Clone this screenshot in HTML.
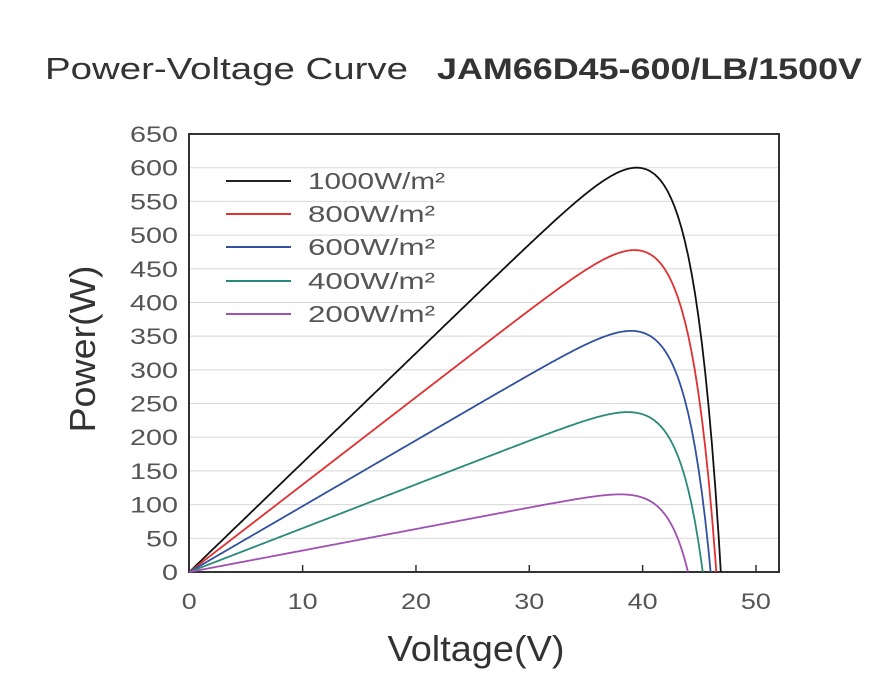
<!DOCTYPE html>
<html><head><style>body{margin:0;background:#fff}svg{display:block}text{font-family:"Liberation Sans",sans-serif}</style></head>
<body>
<svg id="s" width="891" height="691" xmlns="http://www.w3.org/2000/svg">
<text x="45" y="79" font-size="31" fill="#333" textLength="363" lengthAdjust="spacingAndGlyphs">Power-Voltage Curve</text>
<text x="437" y="79" font-size="30" font-weight="bold" fill="#333" textLength="425" lengthAdjust="spacingAndGlyphs">JAM66D45-600/LB/1500V</text>
<g id="grid" stroke="#d8d8d8" stroke-width="1"></g>
<g id="yl" font-size="22" fill="#555"></g>
<g id="xl" font-size="22" fill="#555"></g>
<rect x="189" y="134" width="590" height="438" fill="none" stroke="#333" stroke-width="2"/>
<g id="ticks" stroke="#333" stroke-width="1.5"></g>
<g id="curves" fill="none" stroke-width="1.8"></g>
<g font-size="23" fill="#555">
<line x1="226" y1="181" x2="291" y2="181" stroke="#222" stroke-width="2"/><text x="308" y="189" textLength="137" lengthAdjust="spacingAndGlyphs">1000W/m²</text>
<line x1="226" y1="214" x2="291" y2="214" stroke="#e03030" stroke-width="2"/><text x="308" y="222" textLength="127" lengthAdjust="spacingAndGlyphs">800W/m²</text>
<line x1="226" y1="247" x2="291" y2="247" stroke="#3050a0" stroke-width="2"/><text x="308" y="255" textLength="127" lengthAdjust="spacingAndGlyphs">600W/m²</text>
<line x1="226" y1="281" x2="291" y2="281" stroke="#2a8a7a" stroke-width="2"/><text x="308" y="289" textLength="127" lengthAdjust="spacingAndGlyphs">400W/m²</text>
<line x1="226" y1="314" x2="291" y2="314" stroke="#a050b0" stroke-width="2"/><text x="308" y="322" textLength="127" lengthAdjust="spacingAndGlyphs">200W/m²</text>
</g>
<text transform="translate(95,349) rotate(-90)" font-size="36" fill="#333" text-anchor="middle" textLength="167" lengthAdjust="spacingAndGlyphs">Power(W)</text>
<text x="476" y="661" font-size="36" fill="#333" text-anchor="middle" textLength="177" lengthAdjust="spacingAndGlyphs">Voltage(V)</text>
</svg>
<script>
var NS="http://www.w3.org/2000/svg";
function X(v){return 189.3+v*11.333}function Y(p){return 572-p*0.6738}
function el(g,t,a){var e=document.createElementNS(NS,t);for(var k in a)e.setAttribute(k,a[k]);document.getElementById(g).appendChild(e);return e}
for(var p=50;p<=600;p+=50){el("grid","line",{x1:189,x2:779,y1:Y(p),y2:Y(p)})}
for(var p=0;p<=650;p+=50){var s=String(p),w=s.length*16;el("yl","text",{x:178-w,y:Y(p)+8,textLength:w,lengthAdjust:"spacingAndGlyphs"}).textContent=s}
for(var v=0;v<=50;v+=10){var s=String(v),w=s.length*15;el("xl","text",{x:X(v)-w/2,y:609,textLength:w,lengthAdjust:"spacingAndGlyphs"}).textContent=s;if(v>0)el("ticks","line",{x1:X(v),x2:X(v),y1:572,y2:565})}
var cs=[[16.24,46.9,2.7,"#111"],[12.97,46.5,2.6,"#e03030"],[9.77,46.0,2.5,"#3050a0"],[6.5,45.3,2.3,"#2a8a7a"],[3.19,44.0,2.0,"#a050b0"]];
cs.forEach(function(c){var d="";for(var v=0;v<=c[1];v+=0.1){var i=c[0]*(1-Math.exp((v-c[1])/c[2]));if(v==0)i=0;d+=(d?"L":"M")+X(v).toFixed(1)+" "+Y(Math.max(0,v*i)).toFixed(1)}d+="L"+X(c[1]).toFixed(1)+" "+Y(0);el("curves","path",{d:d,stroke:c[3]})});
</script>
</body></html>
